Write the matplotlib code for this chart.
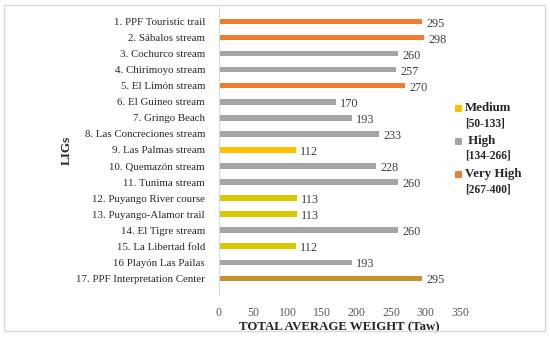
import matplotlib
matplotlib.use("Agg")
import matplotlib.pyplot as plt
from matplotlib.patches import Rectangle

plt.rcParams['font.family'] = ['Liberation Serif', 'DejaVu Serif']

categories = [
    "1. PPF Touristic trail", "2. Sábalos stream", "3. Cochurco stream",
    "4. Chirimoyo stream", "5. El Limón stream", "6. El Guineo stream",
    "7. Gringo Beach", "8. Las Concreciones stream", "9. Las Palmas stream",
    "10. Quemazón stream", "11. Tunima stream", "12. Puyango River course",
    "13. Puyango-Alamor trail", "14. El Tigre stream", "15. La Libertad fold",
    "16 Playón Las Pailas", "17. PPF Interpretation Center",
]
values = [295, 298, 260, 257, 270, 170, 193, 233, 112, 228, 260, 113, 113, 260, 112, 193, 295]
classes = ["Very High", "Very High", "High", "High", "Very High", "High", "High", "High",
           "Medium", "High", "High", "Medium", "Medium", "High", "Medium", "High", "Very High"]
bar_colors = ["#ED7D31", "#ED7D31", "#A5A5A5", "#A5A5A5", "#ED7D31", "#A5A5A5", "#A5A5A5",
              "#A5A5A5", "#FFC000", "#A5A5A5", "#A5A5A5", "#D6C800", "#D6C800", "#A5A5A5",
              "#D6C800", "#A5A5A5", "#C8902E"]
legend_labels = ["Medium", " High", "Very High"]
legend_ranges = ["[50-133]", "[134-266]", "[267-400]"]
legend_colors = ["#FFC000", "#A5A5A5", "#ED7D31"]
x_ticks = [0, 50, 100, 150, 200, 250, 300, 350]

W, H = 550, 338
fig = plt.figure(figsize=(5.5, 3.38), dpi=100)
fig.patch.set_facecolor("white")

# outer frame
fig.patches.append(Rectangle((4 / W, 1 - 331 / H), 541 / W, 326 / H, transform=fig.transFigure,
                             fill=False, edgecolor="#D9D9D9", linewidth=1.0))

ax = fig.add_axes([219 / W, 1 - 295 / H, 241 / W, 288 / H])
ypos = list(range(len(categories)))
ax.barh(ypos, values, height=0.33, color=bar_colors)
for y, v in zip(ypos, values):
    ax.text(v + 6, y + 0.12, str(v), va="center", ha="left", fontsize=8.8, color="#404040")

ax.set_xlim(0, 350)
ax.set_ylim(17.05, -0.92)
ax.set_yticks(ypos)
ax.set_yticklabels(categories, fontsize=7.8, color="#262626")
ax.set_xticks(x_ticks)
ax.set_xticklabels([str(t) for t in x_ticks], fontsize=8.6, color="#595959")
ax.tick_params(axis="both", length=0)
ax.tick_params(axis="y", pad=10)
ax.tick_params(axis="x", pad=9)
for s in ["top", "right", "bottom"]:
    ax.spines[s].set_visible(False)
ax.spines["left"].set_color("#D9D9D9")
ax.spines["left"].set_linewidth(0.8)

ax.set_xlabel("TOTAL AVERAGE WEIGHT (Taw)", fontsize=9.3, fontweight="bold", color="#262626", labelpad=1)
fig.text(67 / W, 1 - 150 / H, "LIGs", rotation=90, fontsize=9.5, fontweight="bold",
         color="#262626", ha="center", va="center")

# legend
ly = [108, 141, 174]
for lab, rng, col, y in zip(legend_labels, legend_ranges, legend_colors, ly):
    fig.patches.append(Rectangle((455 / W, 1 - (y + 3.5) / H), 7 / W, 7 / H,
                                 transform=fig.transFigure, facecolor=col, edgecolor="none"))
    fig.text(465 / W, 1 - y / H, lab, fontsize=9.3, fontweight="bold", color="#262626",
             ha="left", va="center")
    fig.text(465 / W, 1 - (y + 15) / H, rng, fontsize=8.3, fontweight="bold", color="#262626",
             ha="left", va="center")

fig.savefig("out.png", dpi=100)
